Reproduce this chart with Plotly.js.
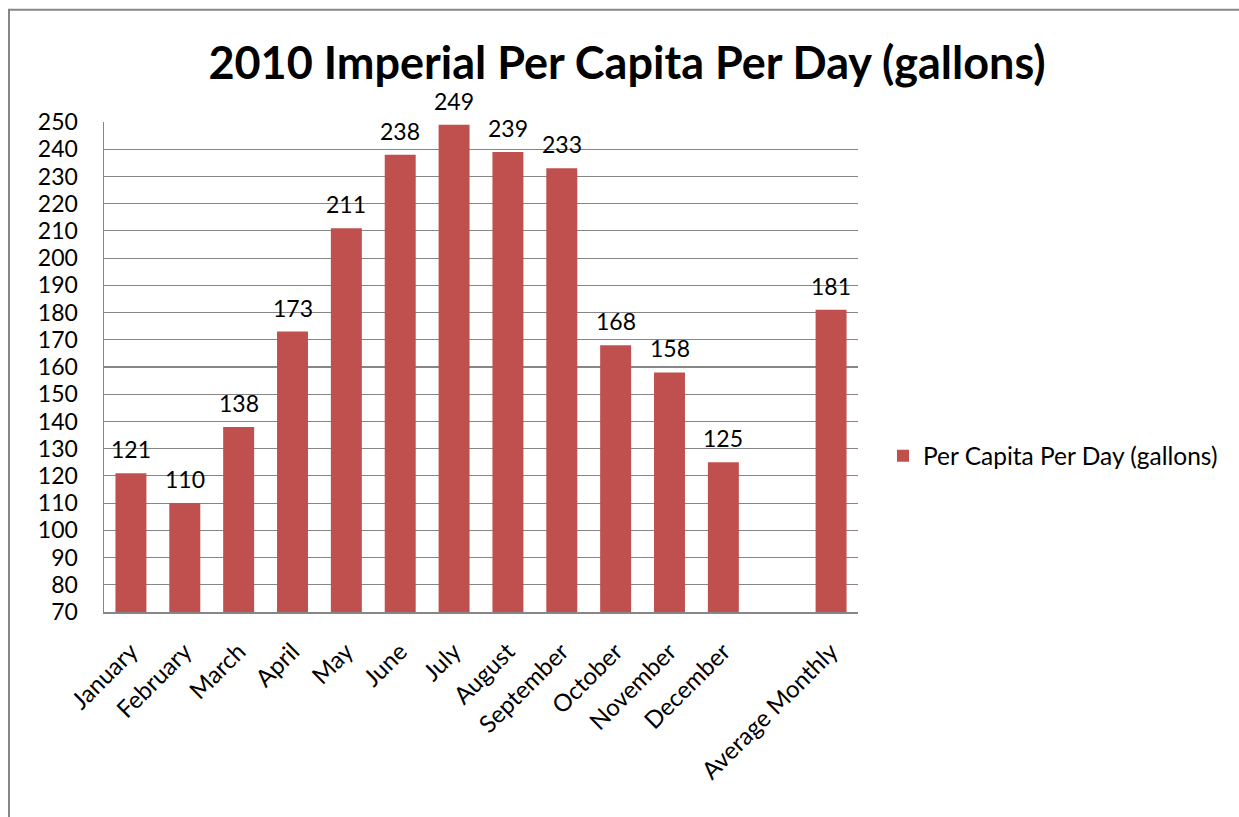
<!DOCTYPE html>
<html>
<head>
<meta charset="utf-8">
<script src="https://cdn.plot.ly/plotly-3.0.1.min.js"></script>
<style>html,body{margin:0;padding:0;background:#fff;}#chart{width:1239px;height:817px;}</style>
</head>
<body>
<div id="chart"></div>
<script>
const categories = ['January','February','March','April','May','June','July','August','September','October','November','December',' ','Average Monthly'];
const values = [121,110,138,173,211,238,249,239,233,168,158,125,null,181];
const labels = ['121','110','138','173','211','238','249','239','233','168','158','125','','181'];
const seriesName = 'Per Capita Per Day (gallons)';
const yTicks = [70,80,90,100,110,120,130,140,150,160,170,180,190,200,210,220,230,240,250];

const FONT = 'Lato, Carlito, Calibri, sans-serif';
const W = 1239, H = 817;
const L = 104, R = 858, T = 121.5, B = 612.5;

const trace = {
  type: 'bar',
  x: categories,
  y: values,
  name: seriesName,
  marker: {color: '#C0504D', line: {width: 0}},
  hoverinfo: 'x+y'
};

const annotations = categories.map((c, i) => values[i] == null ? null : ({
  x: c, y: values[i], xref: 'x', yref: 'y',
  text: labels[i], showarrow: false,
  xanchor: 'center', yanchor: 'middle', yshift: 24,
  font: {family: FONT, size: 23, color: '#000'}
})).filter(a => a);

const layout = {
  width: W, height: H,
  margin: {l: L, r: W - R, t: T, b: H - B, pad: 0},
  paper_bgcolor: '#fff',
  plot_bgcolor: '#fff',
  font: {family: FONT, color: '#000'},
  title: {
    text: '<b>2010 Imperial Per Capita Per Day (gallons)</b>',
    font: {family: FONT, size: 45, color: '#000'},
    x: 627 / W, xref: 'container', xanchor: 'center',
    y: 1 - 63 / H, yref: 'container', yanchor: 'middle'
  },
  bargap: 0.425,
  showlegend: true,
  legend: {
    x: (883 - L) / (R - L), xanchor: 'left',
    y: (B - 456) / (B - T), yanchor: 'middle',
    font: {family: FONT, size: 24.5, color: '#000'},
    bgcolor: 'rgba(0,0,0,0)'
  },
  annotations: annotations,
  xaxis: {
    type: 'category',
    categoryorder: 'array',
    categoryarray: categories,
    tickangle: -45,
    tickfont: {family: FONT, size: 24, color: '#000'},
    showline: true, linecolor: '#868686', linewidth: 2,
    ticks: '', showgrid: false, zeroline: false,
    ticklabelstandoff: 14,
    fixedrange: true
  },
  yaxis: {
    range: [70, 250],
    tickvals: yTicks,
    ticktext: yTicks.map(String),
    tickfont: {family: FONT, size: 23, color: '#000'},
    showline: true, linecolor: '#868686', linewidth: 1.5,
    showgrid: true, gridcolor: '#868686', gridwidth: 1.2,
    ticks: '', ticklen: 0, zeroline: false,
    ticklabelstandoff: 20,
    fixedrange: true
  },
  shapes: [{
    type: 'rect', xref: 'paper', yref: 'paper',
    x0: (9 - L) / (R - L), x1: (1300 - L) / (R - L),
    y0: (B - 900) / (B - T), y1: (B - 9) / (B - T),
    line: {color: '#868686', width: 2}, fillcolor: 'rgba(0,0,0,0)', layer: 'below'
  }]
};

Plotly.newPlot('chart', [trace], layout, {displayModeBar: false, staticPlot: true});
</script>
</body>
</html>
